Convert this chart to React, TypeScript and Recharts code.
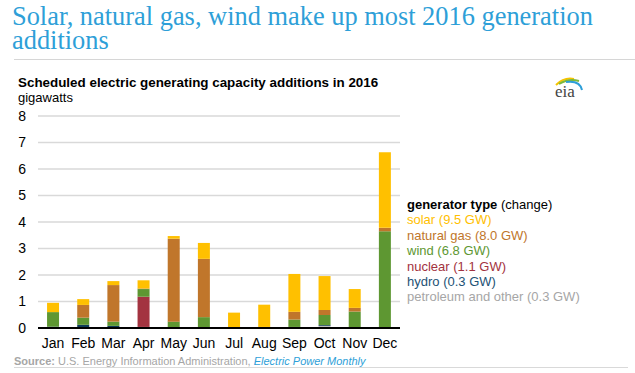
import React from 'react'
import { BarChart, Bar, XAxis, YAxis, CartesianGrid } from 'recharts'

const months = ['Jan', 'Feb', 'Mar', 'Apr', 'May', 'Jun', 'Jul', 'Aug', 'Sep', 'Oct', 'Nov', 'Dec']

// gigawatts per month
const petroleum = [0, 0, 0, 0.02, 0, 0, 0, 0, 0, 0.08, 0, 0]
const hydro = [0.05, 0.12, 0.08, 0.02, 0, 0, 0, 0, 0.04, 0.03, 0, 0]
const nuclear = [0, 0, 0, 1.14, 0, 0, 0, 0, 0, 0, 0, 0]
const wind = [0.55, 0.27, 0.16, 0.29, 0.24, 0.41, 0, 0.04, 0.28, 0.38, 0.62, 3.65]
const gas = [0, 0.48, 1.38, 0.02, 3.13, 2.2, 0, 0, 0.29, 0.19, 0.14, 0.13]
const solar = [0.35, 0.22, 0.15, 0.31, 0.1, 0.6, 0.58, 0.84, 1.43, 1.28, 0.71, 2.85]

const yTicks = [0, 1, 2, 3, 4, 5, 6, 7, 8]

const series = [
  { key: 'petroleum', label: 'petroleum and other', total: '0.3 GW', fill: '#BDBDBD', text: '#A6A6A6' },
  { key: 'hydro', label: 'hydro', total: '0.3 GW', fill: '#0E3B58', text: '#1D5275' },
  { key: 'nuclear', label: 'nuclear', total: '1.1 GW', fill: '#A33340', text: '#A33340' },
  { key: 'wind', label: 'wind', total: '6.8 GW', fill: '#5E9732', text: '#5E9732' },
  { key: 'gas', label: 'natural gas', total: '8.0 GW', fill: '#C0762B', text: '#C0762B' },
  { key: 'solar', label: 'solar', total: '9.5 GW', fill: '#FFC000', text: '#FFC000' },
]

const data = months.map((m, i) => ({
  month: m,
  petroleum: petroleum[i],
  hydro: hydro[i],
  nuclear: nuclear[i],
  wind: wind[i],
  gas: gas[i],
  solar: solar[i],
}))

const sans = 'Arial, "Liberation Sans", sans-serif'
const blue = '#2E9FD8'

function EiaLogo() {
  return (
    <svg width={32} height={24} style={{ position: 'absolute', left: 554, top: 76 }}>
      <path d="M2 9 Q10 1 20 3" stroke="#F5C400" strokeWidth={2} fill="none" />
      <path d="M5 8 Q15 2 25 5" stroke="#7DB83A" strokeWidth={2} fill="none" />
      <path d="M12 6 Q26 4 28 14" stroke="#2E9FD8" strokeWidth={2} fill="none" />
      <text x={1} y={21} fontFamily='"Times New Roman", "Liberation Serif", serif' fontSize={17} fill="#444">
        eia
      </text>
    </svg>
  )
}

export default function App() {
  return (
    <div style={{ position: 'absolute', left: 0, top: 0, width: 635, height: 373, background: '#fff', fontFamily: sans }}>
      <div
        style={{
          position: 'absolute',
          left: 12,
          top: 4,
          width: 620,
          fontFamily: '"Times New Roman", "Liberation Serif", serif',
          fontSize: 26.4,
          lineHeight: '24px',
          color: blue,
        }}
      >
        Solar, natural gas, wind make up most 2016 generation additions
      </div>
      <div style={{ position: 'absolute', left: 14, top: 59, width: 621, height: 1, background: '#D6D6D6' }} />
      <div style={{ position: 'absolute', left: 18, top: 75, fontSize: 13.4, fontWeight: 'bold', color: '#000', whiteSpace: 'nowrap' }}>
        Scheduled electric generating capacity additions in 2016
      </div>
      <div style={{ position: 'absolute', left: 18, top: 90, fontSize: 13, color: '#000' }}>gigawatts</div>
      <EiaLogo />

      <div style={{ position: 'absolute', left: 0, top: 0 }}>
        <BarChart width={635} height={373} data={data} margin={{ top: 116, right: 235, bottom: 15, left: 8 }} barCategoryGap="30%">
          <CartesianGrid vertical={false} stroke="#D9D9D9" strokeWidth={1.5} />
          <XAxis
            dataKey="month"
            tick={{ fill: '#000', fontSize: 14, fontFamily: sans }}
            tickLine={false}
            tickSize={8}
            tickMargin={2}
            axisLine={{ stroke: '#000', strokeWidth: 2 }}
            interval={0}
          />
          <YAxis
            domain={[0, 8]}
            ticks={yTicks}
            width={30}
            tick={{ fill: '#000', fontSize: 14, fontFamily: sans }}
            tickLine={false}
            tickSize={8}
            tickMargin={4}
            axisLine={false}
          />
          {series.map((s) => (
            <Bar key={s.key} dataKey={s.key} stackId="a" fill={s.fill} isAnimationActive={false} />
          ))}
        </BarChart>
      </div>

      <div style={{ position: 'absolute', left: 407, top: 197, fontSize: 13, lineHeight: '15.4px', whiteSpace: 'nowrap' }}>
        <div style={{ color: '#000' }}>
          <b>generator type</b> (change)
        </div>
        {[...series].reverse().map((s) => (
          <div key={s.key} style={{ color: s.text }}>
            {s.label} ({s.total})
          </div>
        ))}
      </div>

      <div style={{ position: 'absolute', left: 14, top: 355, fontSize: 11, color: '#A6A6A6', whiteSpace: 'nowrap' }}>
        <b>Source:</b> U.S. Energy Information Administration,{' '}
        <i style={{ color: blue }}>Electric Power Monthly</i>
      </div>
      <div style={{ position: 'absolute', left: 14, top: 367, width: 614, height: 1, background: '#D9D9D9' }} />
    </div>
  )
}
